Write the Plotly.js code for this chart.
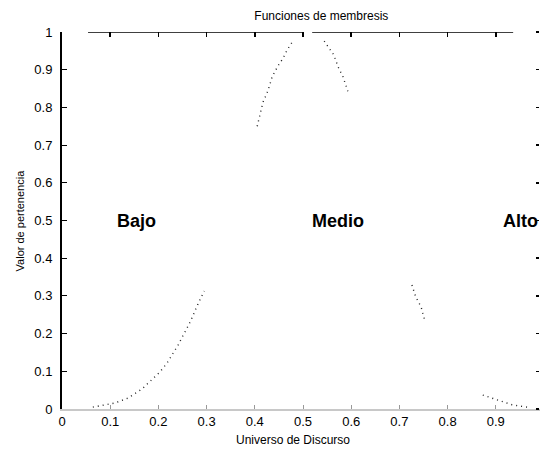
<!DOCTYPE html>
<html>
<head>
<meta charset="utf-8">
<script src="https://cdn.plot.ly/plotly-3.0.1.min.js"></script>
<style>html,body{margin:0;padding:0;background:#fff;}#chart{width:540px;height:450px;}</style>
</head>
<body>
<div id="chart"></div>
<script>
// Visible pieces of the dotted membership curve (null = gap in the scan)
const curveX = [0.064, 0.110, 0.137, 0.166, 0.203, 0.218, 0.241, 0.266, 0.284, 0.295, null,
                0.405, 0.417, 0.427, 0.436, 0.448, 0.459, 0.467, 0.479, null,
                0.544, 0.554, 0.564, 0.573, 0.583, 0.593, null,
                0.726, 0.734, 0.745, 0.753, null,
                0.873, 0.902, 0.934, 0.965];
const curveY = [0.005, 0.016, 0.029, 0.053, 0.098, 0.122, 0.170, 0.231, 0.284, 0.313, null,
                0.750, 0.814, 0.843, 0.881, 0.910, 0.931, 0.952, 0.976, null,
                0.976, 0.958, 0.939, 0.907, 0.881, 0.843, null,
                0.329, 0.297, 0.271, 0.233, null,
                0.037, 0.024, 0.011, 0.005];
// Top border as it survives in the picture
const topLineX = [0.054, 0.502, null, 0.519, 0.936];
const topLineY = [1, 1, null, 1, 1];

const xTickVals = [0, 0.1, 0.2, 0.3, 0.4, 0.5, 0.6, 0.7, 0.8, 0.9];
const xTickText = ['0', '0.1', '0.2', '0.3', '0.4', '0.5', '0.6', '0.7', '0.8', '0.9'];
const yTickVals = [0, 0.1, 0.2, 0.3, 0.4, 0.5, 0.6, 0.7, 0.8, 0.9, 1];
const yTickText = ['0', '0.1', '0.2', '0.3', '0.4', '0.5', '0.6', '0.7', '0.8', '0.9', '1'];

const labelText = ['Bajo', 'Medio', 'Alto'];
const labelX = [0.11, 0.515, 0.91];
const labelY = [0.5, 0.5, 0.5];

const titleText = 'Funciones de membresis';
const xTitle = 'Universo de Discurso';
const yTitle = 'Valor de pertenencia';

const FONT = 'Liberation Sans, Arial, Helvetica, sans-serif';
const XR = [0, 0.9917];

const traces = [
  {x: curveX, y: curveY, type: 'scatter', mode: 'lines', connectgaps: false,
   line: {color: '#222', width: 1.4, dash: '1px,4px'}, hoverinfo: 'skip', showlegend: false},
  {x: topLineX, y: topLineY, xaxis: 'x2', yaxis: 'y2', type: 'scatter', mode: 'lines', connectgaps: false,
   line: {color: '#000', width: 1.6}, hoverinfo: 'skip', showlegend: false, cliponaxis: false}
];

const annotations = labelText.map((t, i) => ({
  x: labelX[i], y: labelY[i], xref: 'x', yref: 'y', text: t, showarrow: false,
  xanchor: 'left', yanchor: 'middle', font: {family: FONT, size: 18, color: '#000', weight: 'bold'}
}));
annotations.push({x: 0.483, y: -0.082, xref: 'paper', yref: 'paper', text: xTitle, showarrow: false,
  xanchor: 'center', yanchor: 'middle', font: {family: FONT, size: 12, color: '#000'}});
annotations.push({x: -0.088, y: 0.5, xref: 'paper', yref: 'paper', text: yTitle, showarrow: false,
  textangle: -90, xanchor: 'center', yanchor: 'middle', font: {family: FONT, size: 11, color: '#000'}});

const layout = {
  width: 540, height: 450,
  margin: {l: 62, r: 0, t: 32, b: 41, pad: 0},
  paper_bgcolor: '#fff', plot_bgcolor: '#fff',
  font: {family: FONT, size: 13, color: '#000'},
  title: {text: titleText, font: {family: FONT, size: 12, color: '#000'},
          x: 293 / 540, xref: 'paper', xanchor: 'center', y: 1 - 16 / 450, yanchor: 'middle'},
  xaxis: {range: XR, tickvals: xTickVals, ticktext: xTickText, ticks: 'inside', ticklen: 4,
          tickcolor: '#999', showline: true, linecolor: '#c8c8c8', linewidth: 1.5, showgrid: false,
          zeroline: false, tickfont: {size: 13, color: '#000'}},
  xaxis2: {overlaying: 'x', side: 'top', range: XR, anchor: 'y2', tickmode: 'array', tickvals: xTickVals,
           ticktext: xTickText, ticks: 'inside', ticklen: 5, tickwidth: 1.5, tickcolor: '#000',
           showticklabels: false, showline: false, showgrid: false, zeroline: false},
  yaxis: {range: [0, 1], tickvals: yTickVals, ticktext: yTickText, ticks: 'inside', ticklen: 5,
          tickcolor: '#000', showline: true, linecolor: '#000', linewidth: 2, showgrid: false,
          zeroline: false, ticklabelstandoff: 5, tickfont: {size: 13, color: '#000'}},
  yaxis2: {overlaying: 'y', side: 'right', anchor: 'free', position: 0.99, range: [0, 1], tickmode: 'array',
           tickvals: yTickVals, ticktext: yTickText, ticks: 'outside', ticklen: 3, tickwidth: 1.5, tickcolor: '#000',
           showticklabels: false, showline: false, showgrid: false, zeroline: false},
  annotations: annotations,
  showlegend: false
};

Plotly.newPlot('chart', traces, layout, {displayModeBar: false, staticPlot: true});
</script>
</body>
</html>
